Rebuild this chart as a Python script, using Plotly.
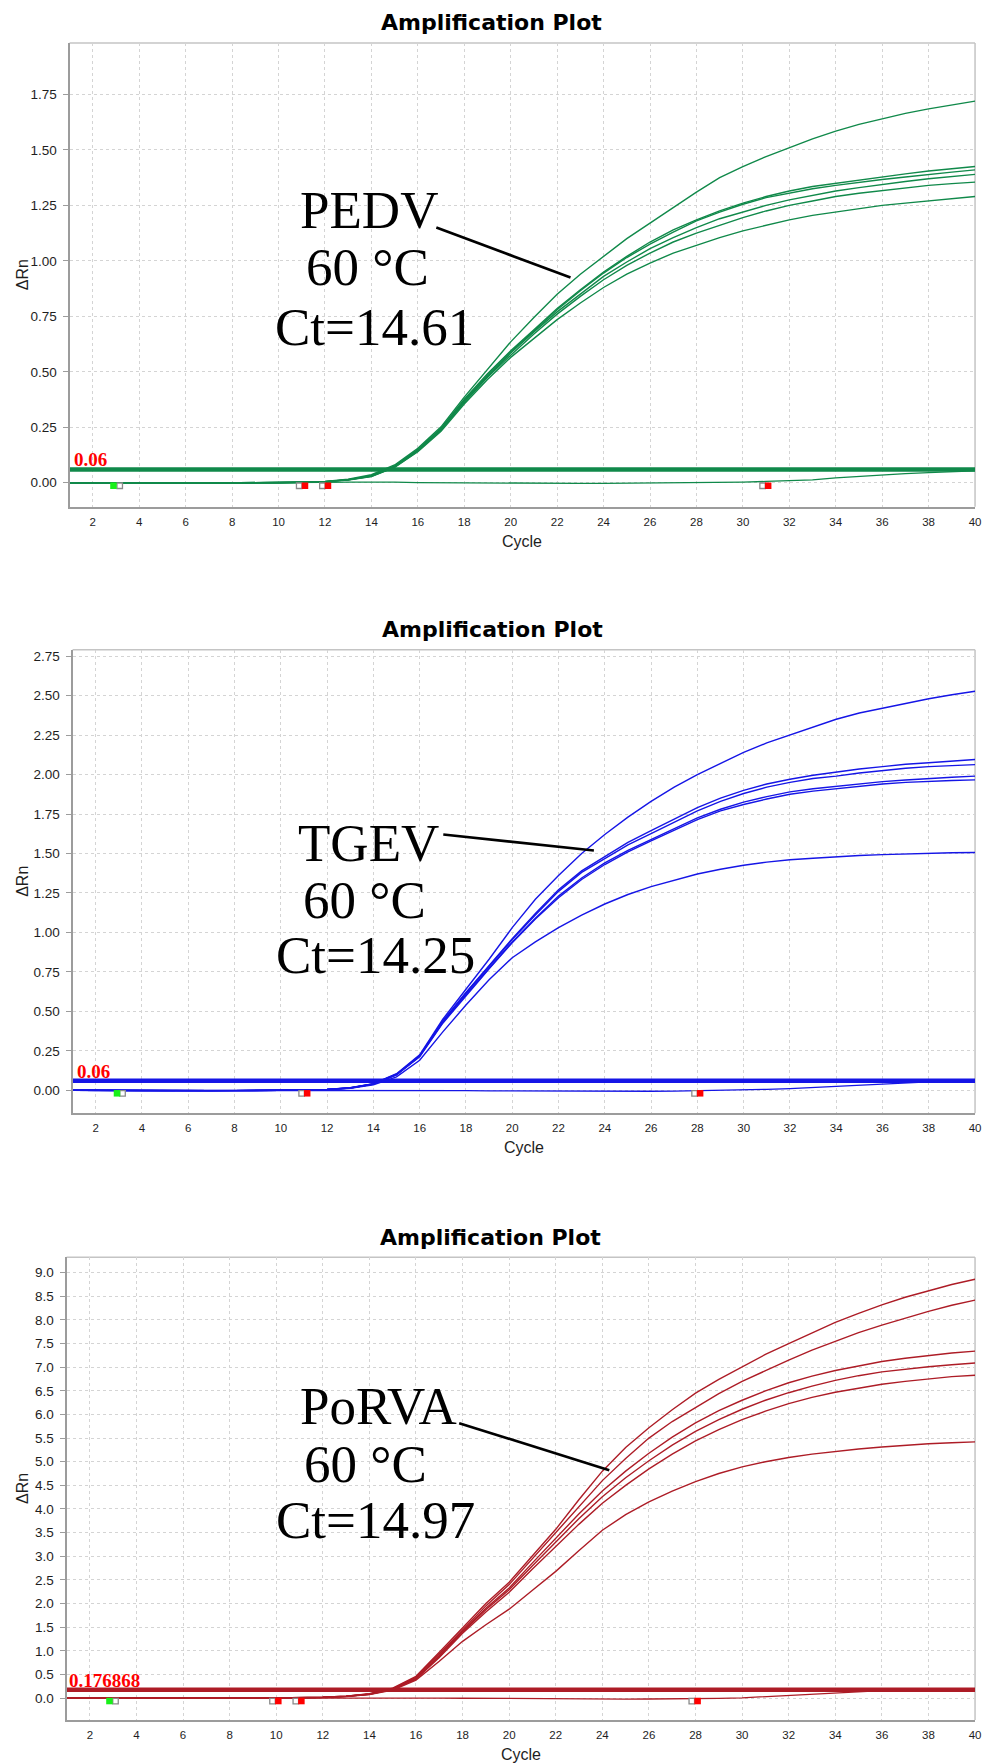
import plotly.graph_objects as go

cycles = list(range(1, 41))
x_ticks = list(range(2, 41, 2))

# ---------------- PEDV ----------------
pedv_a = [0.000, -0.001, -0.001, -0.002, -0.002, -0.002, -0.002, -0.001, -0.001, 0.000, 0.002, 0.006, 0.016, 0.036, 0.080, 0.155, 0.252, 0.386, 0.512, 0.635, 0.745, 0.850, 0.940, 1.020, 1.100, 1.170, 1.240, 1.310, 1.375, 1.425, 1.470, 1.510, 1.550, 1.585, 1.615, 1.640, 1.665, 1.685, 1.703, 1.720]
pedv_b = [0.000, -0.001, -0.002, -0.002, -0.002, -0.003, -0.002, -0.002, -0.001, 0.000, 0.002, 0.005, 0.014, 0.032, 0.076, 0.149, 0.246, 0.376, 0.491, 0.595, 0.690, 0.785, 0.870, 0.950, 1.020, 1.085, 1.140, 1.185, 1.225, 1.260, 1.290, 1.315, 1.335, 1.350, 1.365, 1.380, 1.392, 1.405, 1.415, 1.425]
pedv_c = [0.000, -0.001, -0.001, -0.002, -0.002, -0.002, -0.002, -0.001, -0.001, 0.000, 0.002, 0.005, 0.014, 0.031, 0.074, 0.147, 0.243, 0.371, 0.486, 0.590, 0.685, 0.780, 0.865, 0.945, 1.015, 1.075, 1.130, 1.180, 1.220, 1.255, 1.285, 1.305, 1.325, 1.340, 1.355, 1.367, 1.378, 1.390, 1.400, 1.410]
pedv_d = [0.000, -0.002, -0.002, -0.003, -0.003, -0.003, -0.002, -0.002, -0.001, -0.001, 0.001, 0.005, 0.013, 0.030, 0.072, 0.145, 0.240, 0.367, 0.480, 0.585, 0.680, 0.770, 0.850, 0.930, 0.995, 1.055, 1.105, 1.150, 1.190, 1.220, 1.250, 1.275, 1.295, 1.315, 1.330, 1.345, 1.358, 1.370, 1.380, 1.390]
pedv_e = [0.000, -0.001, -0.001, -0.001, -0.002, -0.002, -0.002, -0.001, -0.001, 0.000, 0.001, 0.005, 0.013, 0.029, 0.070, 0.142, 0.237, 0.362, 0.475, 0.575, 0.670, 0.760, 0.840, 0.915, 0.980, 1.035, 1.085, 1.125, 1.160, 1.195, 1.225, 1.250, 1.270, 1.290, 1.305, 1.317, 1.330, 1.340, 1.348, 1.355]
pedv_f = [0.000, -0.001, -0.002, -0.002, -0.002, -0.002, -0.002, -0.002, -0.001, 0.000, 0.001, 0.004, 0.012, 0.028, 0.069, 0.140, 0.232, 0.355, 0.465, 0.565, 0.650, 0.735, 0.810, 0.880, 0.940, 0.990, 1.035, 1.070, 1.105, 1.135, 1.160, 1.185, 1.205, 1.220, 1.235, 1.250, 1.260, 1.270, 1.280, 1.290]
pedv_ntc = [0.000, -0.001, -0.001, -0.001, -0.001, -0.001, -0.001, -0.001, 0.000, 0.000, 0.001, 0.002, 0.003, 0.004, 0.003, 0.001, 0.000, -0.001, -0.001, -0.002, -0.002, -0.003, -0.003, -0.003, -0.002, -0.002, -0.002, -0.001, 0.000, 0.003, 0.006, 0.009, 0.013, 0.022, 0.029, 0.036, 0.041, 0.046, 0.050, 0.054]
pedv_threshold = 0.06
pedv_green = [2.89]
pedv_hollow = [3.16, 10.89, 11.89, 30.85]
pedv_red = [11.14, 12.13, 31.09]

# ---------------- TGEV ----------------
tgev_a = [0.000, -0.001, -0.002, -0.002, -0.002, -0.003, -0.003, -0.002, -0.002, -0.001, 0.002, 0.006, 0.016, 0.042, 0.105, 0.225, 0.450, 0.640, 0.830, 1.030, 1.210, 1.360, 1.500, 1.620, 1.730, 1.830, 1.920, 2.000, 2.070, 2.140, 2.200, 2.250, 2.300, 2.350, 2.390, 2.420, 2.450, 2.480, 2.505, 2.527]
tgev_b = [0.000, -0.001, -0.002, -0.002, -0.003, -0.003, -0.003, -0.002, -0.002, -0.001, 0.002, 0.006, 0.016, 0.041, 0.102, 0.220, 0.440, 0.620, 0.790, 0.960, 1.120, 1.270, 1.390, 1.480, 1.570, 1.645, 1.720, 1.790, 1.850, 1.900, 1.940, 1.970, 1.995, 2.015, 2.035, 2.050, 2.065, 2.075, 2.085, 2.095]
tgev_c = [0.000, -0.001, -0.001, -0.002, -0.002, -0.002, -0.002, -0.002, -0.001, -0.001, 0.002, 0.006, 0.015, 0.040, 0.100, 0.218, 0.435, 0.615, 0.785, 0.955, 1.110, 1.260, 1.380, 1.470, 1.555, 1.625, 1.700, 1.770, 1.830, 1.880, 1.920, 1.950, 1.975, 1.990, 2.010, 2.025, 2.040, 2.050, 2.058, 2.063]
tgev_d = [0.000, -0.002, -0.002, -0.003, -0.003, -0.003, -0.003, -0.003, -0.002, -0.001, 0.001, 0.005, 0.015, 0.040, 0.099, 0.215, 0.430, 0.605, 0.775, 0.940, 1.090, 1.230, 1.345, 1.440, 1.520, 1.590, 1.660, 1.725, 1.780, 1.825, 1.860, 1.890, 1.910, 1.925, 1.940, 1.955, 1.965, 1.975, 1.983, 1.990]
tgev_e = [0.000, -0.001, -0.001, -0.002, -0.002, -0.002, -0.002, -0.002, -0.001, -0.001, 0.001, 0.005, 0.014, 0.039, 0.098, 0.213, 0.425, 0.600, 0.770, 0.935, 1.085, 1.220, 1.335, 1.430, 1.510, 1.580, 1.650, 1.715, 1.770, 1.810, 1.845, 1.875, 1.895, 1.910, 1.925, 1.940, 1.950, 1.958, 1.962, 1.966]
tgev_f = [0.000, -0.001, -0.002, -0.002, -0.002, -0.003, -0.002, -0.002, -0.002, -0.001, 0.001, 0.004, 0.012, 0.035, 0.085, 0.190, 0.370, 0.540, 0.700, 0.840, 0.940, 1.030, 1.110, 1.180, 1.240, 1.290, 1.330, 1.370, 1.400, 1.425, 1.445, 1.460, 1.470, 1.480, 1.487, 1.493, 1.498, 1.502, 1.505, 1.506]
tgev_ntc = [0.000, -0.001, -0.001, -0.001, -0.001, -0.001, -0.001, -0.001, 0.000, 0.000, 0.001, 0.001, 0.002, 0.002, 0.001, 0.000, -0.001, -0.002, -0.003, -0.004, -0.005, -0.006, -0.007, -0.008, -0.007, -0.006, -0.005, -0.003, -0.001, 0.002, 0.006, 0.011, 0.018, 0.026, 0.034, 0.042, 0.049, 0.054, 0.058, 0.060]
tgev_threshold = 0.06
tgev_green = [2.92]
tgev_hollow = [3.16, 10.9, 27.88]
tgev_red = [11.14, 28.12]

# ---------------- PoRVA ----------------
porva_a = [0.000, -0.002, -0.003, -0.004, -0.004, -0.004, -0.004, -0.003, -0.002, 0.000, 0.006, 0.018, 0.040, 0.090, 0.210, 0.460, 0.970, 1.480, 2.000, 2.450, 3.000, 3.570, 4.200, 4.800, 5.300, 5.720, 6.100, 6.450, 6.740, 7.000, 7.270, 7.500, 7.730, 7.950, 8.140, 8.320, 8.480, 8.620, 8.750, 8.860]
porva_b = [0.000, -0.002, -0.003, -0.003, -0.004, -0.004, -0.004, -0.003, -0.002, 0.000, 0.005, 0.017, 0.039, 0.088, 0.200, 0.440, 0.930, 1.450, 1.950, 2.400, 2.950, 3.500, 4.070, 4.600, 5.070, 5.500, 5.850, 6.150, 6.440, 6.700, 6.930, 7.150, 7.360, 7.550, 7.730, 7.890, 8.040, 8.180, 8.310, 8.420]
porva_c = [0.000, -0.002, -0.002, -0.003, -0.003, -0.003, -0.003, -0.002, -0.001, 0.000, 0.005, 0.016, 0.037, 0.083, 0.190, 0.420, 0.900, 1.420, 1.900, 2.330, 2.860, 3.380, 3.900, 4.380, 4.800, 5.180, 5.520, 5.820, 6.080, 6.300, 6.500, 6.670, 6.810, 6.930, 7.030, 7.120, 7.190, 7.250, 7.300, 7.340]
porva_d = [0.000, -0.003, -0.004, -0.004, -0.005, -0.005, -0.004, -0.004, -0.002, -0.001, 0.004, 0.015, 0.036, 0.081, 0.188, 0.410, 0.880, 1.400, 1.870, 2.290, 2.800, 3.300, 3.800, 4.260, 4.660, 5.020, 5.350, 5.640, 5.890, 6.110, 6.300, 6.460, 6.600, 6.720, 6.820, 6.900, 6.960, 7.010, 7.050, 7.090]
porva_e = [0.000, -0.002, -0.003, -0.003, -0.003, -0.004, -0.003, -0.003, -0.002, 0.000, 0.004, 0.015, 0.035, 0.080, 0.180, 0.400, 0.860, 1.370, 1.820, 2.240, 2.730, 3.200, 3.680, 4.120, 4.500, 4.850, 5.160, 5.440, 5.680, 5.890, 6.070, 6.230, 6.360, 6.470, 6.560, 6.640, 6.700, 6.750, 6.800, 6.830]
porva_f = [0.000, -0.002, -0.003, -0.004, -0.004, -0.004, -0.004, -0.003, -0.002, -0.001, 0.003, 0.013, 0.031, 0.072, 0.170, 0.380, 0.780, 1.200, 1.550, 1.880, 2.280, 2.680, 3.120, 3.550, 3.880, 4.150, 4.380, 4.580, 4.750, 4.890, 5.000, 5.090, 5.160, 5.220, 5.270, 5.310, 5.350, 5.380, 5.400, 5.420]
porva_ntc = [0.000, -0.002, -0.003, -0.003, -0.003, -0.003, -0.003, -0.002, -0.001, 0.000, 0.002, 0.004, 0.006, 0.008, 0.006, 0.003, 0.000, -0.004, -0.008, -0.012, -0.015, -0.018, -0.020, -0.021, -0.021, -0.020, -0.018, -0.014, -0.008, 0.005, 0.030, 0.058, 0.085, 0.110, 0.135, 0.155, 0.168, 0.175, 0.178, 0.180]
porva_threshold = 0.176868
porva_green = [2.84]
porva_hollow = [3.1, 9.84, 10.84, 27.84]
porva_red = [10.09, 11.08, 28.09]

pedv_ticks = [0.0, 0.25, 0.5, 0.75, 1.0, 1.25, 1.5, 1.75]
tgev_ticks = [0.0, 0.25, 0.5, 0.75, 1.0, 1.25, 1.5, 1.75, 2.0, 2.25, 2.5, 2.75]
porva_ticks = [0.0, 0.5, 1.0, 1.5, 2.0, 2.5, 3.0, 3.5, 4.0, 4.5, 5.0, 5.5, 6.0, 6.5, 7.0, 7.5, 8.0, 8.5, 9.0]

W, H = 988, 1764


def px(v):
    return v / W


def py(v):
    return 1 - v / H


panels = [
    dict(curves=[pedv_a, pedv_b, pedv_c, pedv_d, pedv_e, pedv_f], ntc=pedv_ntc, thr=pedv_threshold,
         thr_label="0.06", green=pedv_green, hollow=pedv_hollow, red=pedv_red,
         ticks=pedv_ticks, fmt="{:.2f}", color="#10894a",
         box=(70, 42, 981, 506), yrange=(-0.108, 1.982), title_y=22,
         labels=[("PEDV", 371.5, 209), ("60 \u00b0C", 370, 266.5), ("Ct=14.61", 376.5, 326)],
         pointer=(439, 226.7, 574, 276.7), thr_pos=(72, 459)),
    dict(curves=[tgev_a, tgev_b, tgev_c, tgev_d, tgev_e, tgev_f], ntc=tgev_ntc, thr=tgev_threshold,
         thr_label="0.06", green=tgev_green, hollow=tgev_hollow, red=tgev_red,
         ticks=tgev_ticks, fmt="{:.2f}", color="#1515e6",
         box=(73, 649, 981, 1113), yrange=(-0.146, 2.791), title_y=629,
         labels=[("TGEV", 370.5, 842.5), ("60 \u00b0C", 367, 900), ("Ct=14.25", 377.5, 954.5)],
         pointer=(446, 834, 597.5, 850), thr_pos=(75, 1071.5)),
    dict(curves=[porva_a, porva_b, porva_c, porva_d, porva_e, porva_f], ntc=porva_ntc, thr=porva_threshold,
         thr_label="0.176868", green=porva_green, hollow=porva_hollow, red=porva_red,
         ticks=porva_ticks, fmt="{:.1f}", color="#ad1c26",
         box=(67, 1257, 981, 1720), yrange=(-0.465, 9.325), title_y=1237,
         labels=[("PoRVA", 380.5, 1405.5), ("60 \u00b0C", 367.5, 1463.5), ("Ct=14.97", 378, 1519.5)],
         pointer=(462, 1423, 613, 1470), thr_pos=(67, 1680)),
]

fig = go.Figure()
annotations = []
shapes = []
layout = dict(width=W, height=H, autosize=False, margin=dict(l=0, r=0, t=0, b=0),
              paper_bgcolor="white", plot_bgcolor="white", showlegend=False)

for i, p in enumerate(panels, start=1):
    xa = "x" if i == 1 else f"x{i}"
    ya = "y" if i == 1 else f"y{i}"
    x0, y0, x1, y1 = p["box"]
    ppu = (y1 - y0) / (p["yrange"][1] - p["yrange"][0])
    mk_y = -3.0 / ppu
    col = p["color"]

    # threshold
    fig.add_trace(go.Scatter(x=[cycles[0], cycles[-1]], y=[p["thr"], p["thr"]], mode="lines",
                             line=dict(color=col, width=4.5), xaxis=xa, yaxis=ya, hoverinfo="skip"))
    # negative control
    fig.add_trace(go.Scatter(x=cycles, y=p["ntc"], mode="lines", line=dict(color=col, width=1.3),
                             xaxis=xa, yaxis=ya))
    for c in p["curves"]:
        fig.add_trace(go.Scatter(x=cycles, y=c, mode="lines", line=dict(color=col, width=1.4),
                                 xaxis=xa, yaxis=ya))
    # baseline markers
    fig.add_trace(go.Scatter(x=p["hollow"], y=[mk_y] * len(p["hollow"]), mode="markers",
                             marker=dict(symbol="square", size=5.5, color="white",
                                         line=dict(color="#8a8a8a", width=1.3)),
                             xaxis=xa, yaxis=ya, cliponaxis=False))
    fig.add_trace(go.Scatter(x=p["red"], y=[mk_y] * len(p["red"]), mode="markers",
                             marker=dict(symbol="square", size=6.5, color="#ff0000", line=dict(width=0)),
                             xaxis=xa, yaxis=ya, cliponaxis=False))
    fig.add_trace(go.Scatter(x=p["green"], y=[mk_y] * len(p["green"]), mode="markers",
                             marker=dict(symbol="square", size=6.5, color="#19f019", line=dict(width=0)),
                             xaxis=xa, yaxis=ya, cliponaxis=False))

    axkey = "xaxis" if i == 1 else f"xaxis{i}"
    aykey = "yaxis" if i == 1 else f"yaxis{i}"
    layout[axkey] = dict(domain=[px(x0), px(x1)], range=[1, 40], anchor=ya,
                         tickvals=x_ticks, ticktext=[str(t) for t in x_ticks],
                         showgrid=True, gridcolor="#d4d4d4", griddash="3px,3px", gridwidth=1,
                         showline=True, linecolor="#9c9c9c", linewidth=2, ticks="",
                         zeroline=False, ticklabelstandoff=3,
                         tickfont=dict(family="Liberation Sans", size=11.5, color="#1e1e1e"))
    layout[aykey] = dict(domain=[py(y1), py(y0)], range=list(p["yrange"]), anchor=xa,
                         tickvals=p["ticks"], ticktext=[p["fmt"].format(t) for t in p["ticks"]],
                         showgrid=True, gridcolor="#d4d4d4", griddash="3px,3px", gridwidth=1,
                         showline=True, linecolor="#9c9c9c", linewidth=2,
                         ticks="outside", ticklen=5, tickcolor="#9c9c9c", tickwidth=1,
                         zeroline=False, ticklabelstandoff=3,
                         tickfont=dict(family="Liberation Sans", size=13.5, color="#1e1e1e"))

    # top/right border
    shapes.append(dict(type="line", xref="paper", yref="paper", x0=px(x0), x1=px(x1), y0=py(y0), y1=py(y0),
                       line=dict(color="#c4c4c4", width=1.5), layer="below"))
    shapes.append(dict(type="line", xref="paper", yref="paper", x0=px(x1), x1=px(x1), y0=py(y0), y1=py(y1),
                       line=dict(color="#c4c4c4", width=1.5), layer="below"))

    # title
    annotations.append(dict(text="<b>Amplification Plot</b>", xref="paper", yref="paper",
                            x=px((x0 + x1) / 2 - 31), y=py(p["title_y"]), xanchor="center", yanchor="middle",
                            showarrow=False, font=dict(family="DejaVu Sans", size=22, color="black")))
    # axis titles
    annotations.append(dict(text="Cycle", xref="paper", yref="paper", x=px((x0 + x1) / 2), y=py(y1 + 34.5),
                            xanchor="center", yanchor="middle", showarrow=False,
                            font=dict(family="Liberation Sans", size=16, color="#1e1e1e")))
    annotations.append(dict(text="\u0394Rn", xref="paper", yref="paper", x=px(22.5), y=py((y0 + y1) / 2),
                            xanchor="center", yanchor="middle", textangle=-90, showarrow=False,
                            font=dict(family="Liberation Sans", size=16, color="#1e1e1e")))
    # threshold label
    annotations.append(dict(text="<b>" + p["thr_label"] + "</b>", xref="paper", yref="paper",
                            x=px(p["thr_pos"][0]), y=py(p["thr_pos"][1]), xanchor="left", yanchor="middle",
                            showarrow=False, font=dict(family="Liberation Serif", size=19, color="#ff0000")))
    # big labels
    for txt, cx, cy in p["labels"]:
        annotations.append(dict(text=txt, xref="paper", yref="paper", x=px(cx), y=py(cy),
                                xanchor="center", yanchor="middle", showarrow=False,
                                font=dict(family="Liberation Serif", size=53, color="black")))
    lx0, ly0, lx1, ly1 = p["pointer"]
    shapes.append(dict(type="line", xref="paper", yref="paper", x0=px(lx0), y0=py(ly0), x1=px(lx1), y1=py(ly1),
                       line=dict(color="black", width=2.6)))

layout["annotations"] = annotations
layout["shapes"] = shapes
fig.update_layout(**layout)

fig.write_html("out.html", config={"displayModeBar": False},
               post_script="document.body.style.margin='0px';")
